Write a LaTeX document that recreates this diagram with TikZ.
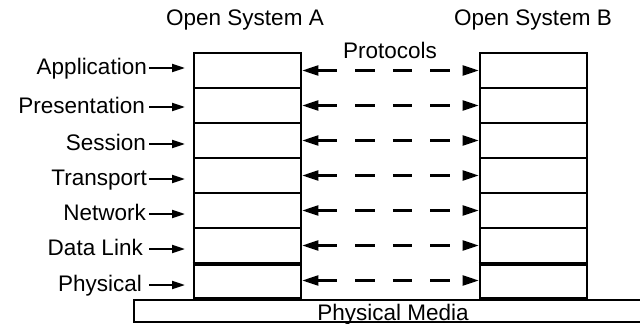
\documentclass[tikz,border=0pt]{standalone}
\usepackage{fontspec}
\setmainfont{Liberation Sans}
\usetikzlibrary{arrows.meta}
\begin{document}
\begin{tikzpicture}[x=1pt,y=-1pt,
  every node/.style={font=\fontsize{22.5}{25}\selectfont, inner sep=0pt},
  layer/.style={draw, line width=2.6pt, minimum width=107pt, minimum height=35pt},
  lab/.style={anchor=base east},
  larrow/.style={line width=2pt, -{Triangle[length=13pt,width=8pt]}},
  proto/.style={line width=2.2pt, {Triangle[length=16pt,width=10pt]}-{Triangle[length=16pt,width=10pt]},
    dash pattern=on 19.5pt off 18pt}
]
\useasboundingbox (0,0) rectangle (640,324);
\clip (0,0) rectangle (640,324);
% titles
\node[anchor=base] (tA) at (245,25) {Open System A};
\node[anchor=base] (tB) at (533,25) {Open System B};
\node[anchor=base] (tP) at (390,58) {Protocols};
% stacks
\foreach \i in {1,...,7}{
  \node[layer] (L\i) at (247.5,{35.5+35*\i}) {};
  \node[layer] (R\i) at (533.5,{35.5+35*\i}) {};
}
\draw[line width=3.8pt] (L6.south west) -- (L6.south east);
\draw[line width=3.8pt] (R6.south west) -- (R6.south east);
% protocol arrows
\foreach \i in {1,...,7}{
  \draw[proto] (L\i.east) -- (R\i.west);
}
% labels
\coordinate (sA) at (149,0);
\coordinate (eA) at (185,0);
\node[lab] (a1) at (147,74) {Application};
\node[lab] (a2) at (145,113) {Presentation};
\node[lab] (a3) at (146,150) {Session};
\node[lab] (a4) at (147,185) {Transport};
\node[lab] (a5) at (146,220) {Network};
\node[lab] (a6) at (143,255) {Data Link};
\node[lab] (a7) at (142,291) {Physical};
\foreach \i in {1,...,7}{
  \draw[larrow] ([yshift=6pt]a\i.base east -| sA) -- ([yshift=6pt]a\i.base east -| eA);
}
% physical media
\draw[line width=2.4pt] (134,300) rectangle (660,322);
\node[anchor=base] (pm) at (393,320) {Physical Media};
\end{tikzpicture}
\end{document}
